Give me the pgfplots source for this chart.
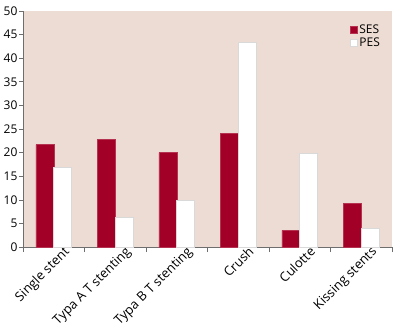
\documentclass[border=0pt]{standalone}
\usepackage{pgfplots}
\pgfplotsset{compat=1.18}
\usepackage{fontspec}
\setmainfont{Open Sans}
\definecolor{bgc}{RGB}{237,220,211}
\definecolor{sesc}{RGB}{162,0,38}
\definecolor{axc}{RGB}{110,110,110}
\begin{document}
\begin{tikzpicture}
\begin{axis}[
  scale only axis,
  width=369pt, height=236pt,
  ybar=0pt,
  bar width=0.29,
  xmin=-0.5, xmax=5.5,
  ymin=0, ymax=50,
  ytick={0,5,...,50},
  xtick={0,...,5},
  xticklabels={Single stent,Typa A T stenting,Typa B T stenting,Crush,Culotte,Kissing stents},
  minor xtick={-0.5,0.5,...,5.5},
  major x tick style={draw=none},
  minor x tick style={axc, line width=0.6pt},
  minor tick length=5pt,
  major tick length=4pt,
  y tick style={axc, line width=0.6pt},
  tick align=outside,
  axis x line*=bottom,
  axis y line*=left,
  axis line style={axc, line width=0.6pt, -},
  axis background/.style={fill=bgc},
  /pgf/number format/assume math mode=true,
  yticklabel style={font=\fontsize{12}{12}\selectfont, xshift=2pt},
  xticklabel style={font=\fontsize{13}{13}\selectfont, rotate=45, anchor=north east, inner sep=0.5pt, xshift=11pt, yshift=-2pt},
  legend style={at={(rel axis cs:0.885,0.95)}, anchor=north west, draw=none, fill=none,
    font=\fontsize{12}{12}\selectfont, row sep=-1pt, inner sep=0pt},
  legend cell align=left,
  legend image code/.code={\draw[#1] (0pt,-3.5pt) rectangle (7pt,3.5pt);},
]
\addplot[fill=sesc, draw=sesc!80!white, line width=0.4pt] coordinates {(0,21.7) (1,22.8) (2,20.0) (3,24.1) (4,3.5) (5,9.3)};
\addplot[fill=white, draw=black!15, line width=0.6pt] coordinates {(0,16.9) (1,6.2) (2,9.9) (3,43.3) (4,19.9) (5,4.0)};
\legend{SES,PES}
\end{axis}
\pgfresetboundingbox
\path (current axis.south west) ++(-23pt,-82pt) rectangle ([shift={(1pt,11pt)}]current axis.north east);
\end{tikzpicture}
\end{document}
